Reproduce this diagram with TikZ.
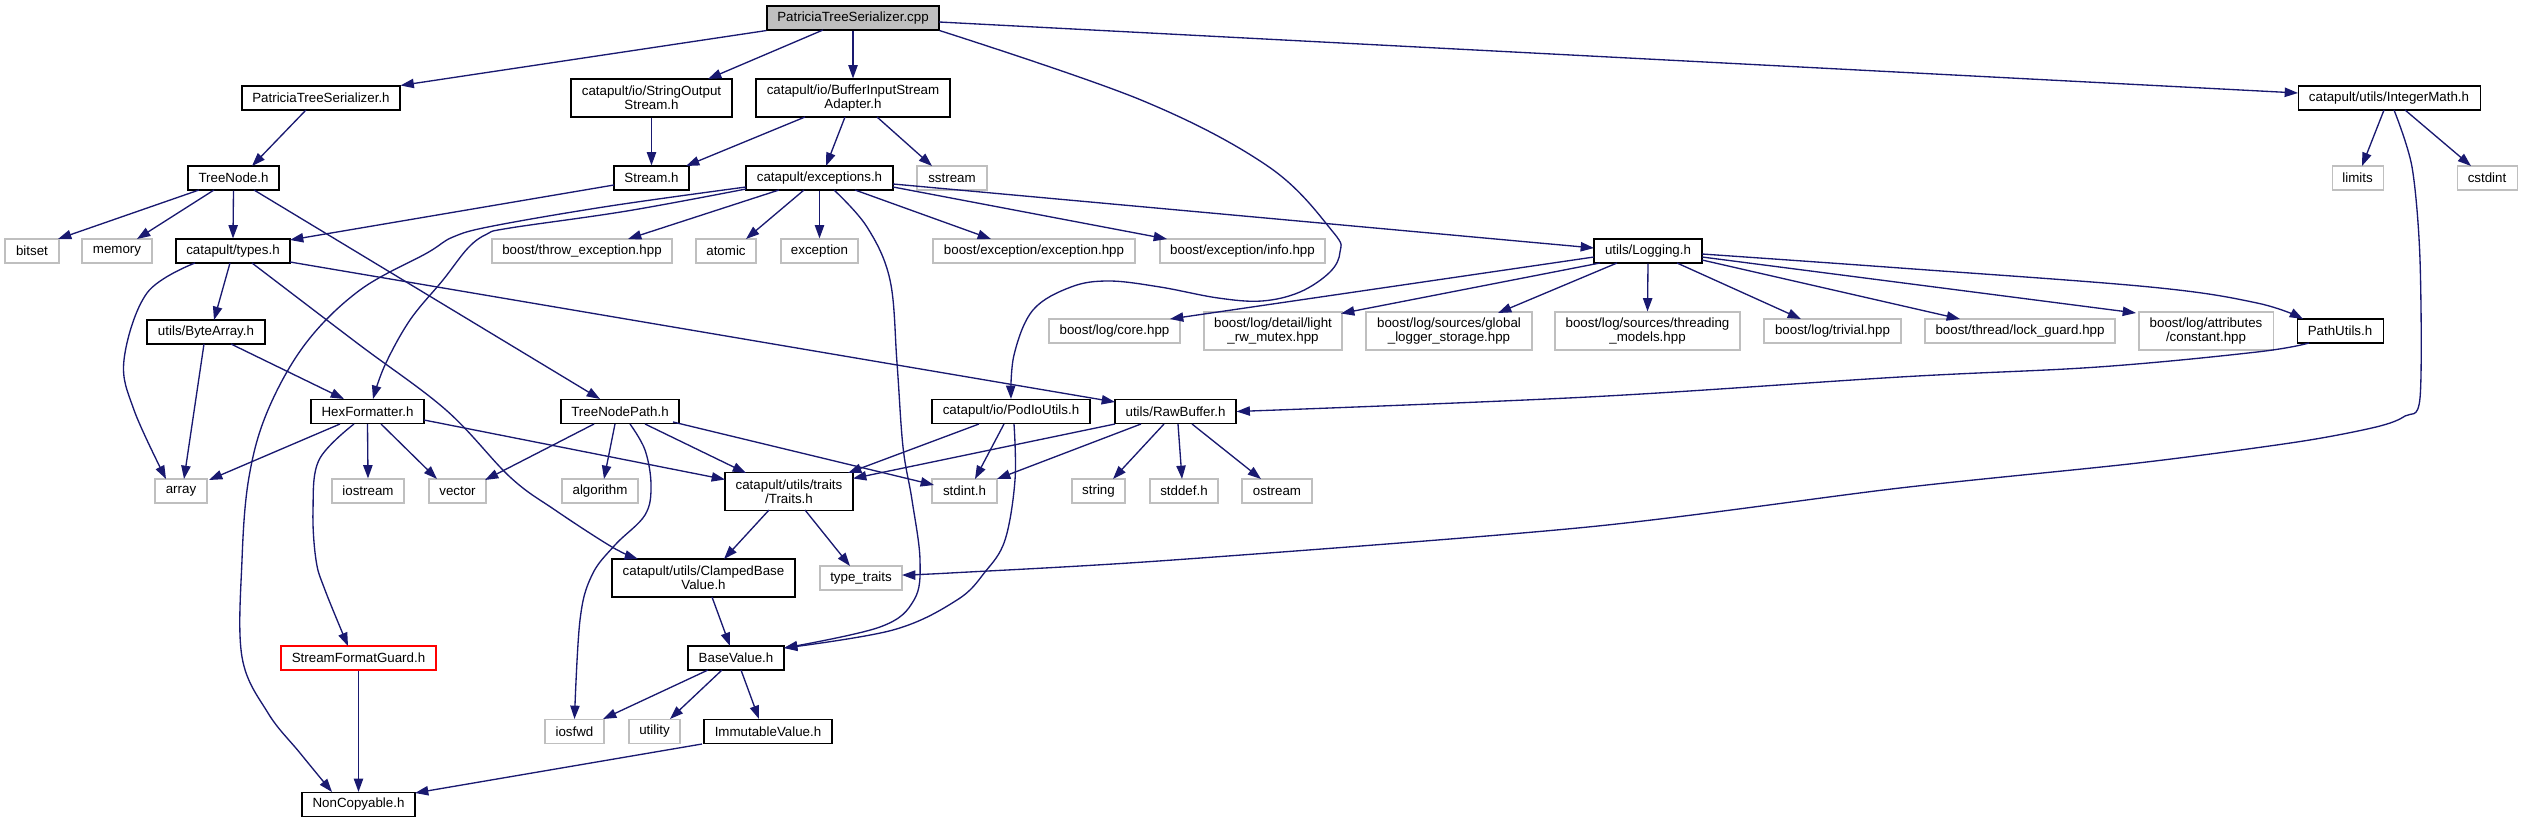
\documentclass[tikz,border=0pt]{standalone}
\usepackage{fontspec}
\setmainfont{Liberation Sans}
\usetikzlibrary{arrows.meta,calc}
\definecolor{edgec}{HTML}{191970}
\definecolor{extc}{HTML}{BFBFBF}
\begin{document}
\begin{tikzpicture}[x=0.75pt,y=-0.75pt,
  box/.style={draw=black, line width=0.8pt, fill=white, inner xsep=2pt, inner ysep=0pt,
    minimum height=18pt, align=center, font=\fontsize{10}{10.5}\selectfont},
  ext/.style={box, draw=extc},
  two/.style={minimum height=28.5pt},
  edge/.style={draw=edgec, line width=1pt, -{Triangle[length=10pt,width=7pt]}}]
\useasboundingbox (0,0) rectangle (2522,823);
% nodes
\node[box, fill=extc, minimum width=129pt] (cpp) at (853,18) {PatriciaTreeSerializer.cpp};
\node[box, minimum width=118.5pt] (pth) at (321,98) {PatriciaTreeSerializer.h};
\node[box, two, minimum width=120.75pt] (sos) at (651.5,98) {catapult/io/StringOutput\\Stream.h};
\node[box, two, minimum width=145.5pt] (bisa) at (853,98) {catapult/io/BufferInputStream\\Adapter.h};
\node[box, minimum width=68.25pt] (treenode) at (233.5,178) {TreeNode.h};
\node[box, minimum width=56.25pt] (stream) at (651.5,178) {Stream.h};
\node[box, minimum width=110.25pt] (exc) at (819.5,178) {catapult/exceptions.h};
\node[ext, minimum width=52.5pt] (sstream) at (952,178) {sstream};
\node[ext, minimum width=40.5pt] (bitset) at (32,251) {bitset};
\node[ext, minimum width=52.5pt] (memory) at (117,251) {memory};
\node[box, minimum width=85.5pt] (types) at (233,251) {catapult/types.h};
\node[ext, minimum width=135pt] (throw) at (582,251) {boost/throw\_exception.hpp};
\node[ext, minimum width=45pt] (atomic) at (726,251) {atomic};
\node[ext, minimum width=57.75pt] (exception) at (819.5,251) {exception};
\node[ext, minimum width=151.5pt] (bexc) at (1034,251) {boost/exception/exception.hpp};
\node[ext, minimum width=123.75pt] (binfo) at (1242.5,251) {boost/exception/info.hpp};
\node[box, minimum width=81pt] (logging) at (1648,251) {utils/Logging.h};
\node[box, minimum width=88.5pt] (bytearray) at (206,332) {utils/ByteArray.h};
\node[box, minimum width=84.75pt] (hex) at (367.5,411.5) {HexFormatter.h};
\node[box, minimum width=88.5pt] (tnp) at (620,411.5) {TreeNodePath.h};
\node[box, minimum width=118.5pt] (pod) at (1011,411.5) {catapult/io/PodIoUtils.h};
\node[box, minimum width=90.75pt] (raw) at (1175.5,411.5) {utils/RawBuffer.h};
\node[ext, minimum width=39pt] (array) at (181,491) {array};
\node[ext, minimum width=54pt] (iostream) at (368,491) {iostream};
\node[ext, minimum width=42.75pt] (vector) at (457.5,491) {vector};
\node[ext, minimum width=57pt] (algorithm) at (600,491) {algorithm};
\node[box, two, minimum width=96pt] (traits) at (789,491.5) {catapult/utils/traits\\/Traits.h};
\node[ext, minimum width=48.75pt] (stdint) at (964.5,491) {stdint.h};
\node[ext, minimum width=39.75pt] (string) at (1098.5,491) {string};
\node[ext, minimum width=51pt] (stddef) at (1184,491) {stddef.h};
\node[ext, minimum width=52.5pt] (ostream) at (1277,491) {ostream};
\node[ext, minimum width=98.25pt] (core) at (1114.5,331) {boost/log/core.hpp};
\node[ext, two, minimum width=103.5pt] (lrw) at (1273,331) {boost/log/detail/light\\\_rw\_mutex.hpp};
\node[ext, two, minimum width=124.5pt] (glob) at (1449,331) {boost/log/sources/global\\\_logger\_storage.hpp};
\node[ext, two, minimum width=138.75pt] (thr) at (1647.5,331) {boost/log/sources/threading\\\_models.hpp};
\node[ext, minimum width=102.75pt] (trivial) at (1832.5,331) {boost/log/trivial.hpp};
\node[ext, minimum width=142.5pt] (lock) at (2020,331) {boost/thread/lock\_guard.hpp};
\node[ext, two, minimum width=100.5pt] (constant) at (2206,331) {boost/log/attributes\\/constant.hpp};
\node[box, minimum width=64.5pt] (pathutils) at (2340,331) {PathUtils.h};
\node[box, minimum width=136.5pt] (intmath) at (2389,98) {catapult/utils/IntegerMath.h};
\node[ext, minimum width=38.25pt] (limits) at (2357.5,178) {limits};
\node[ext, minimum width=45pt] (cstdint) at (2487,178) {cstdint};
\node[box, two, minimum width=137.25pt] (clamped) at (703.5,578) {catapult/utils/ClampedBase\\Value.h};
\node[ext, minimum width=61.5pt] (typetraits) at (861,578) {type\_traits};
\node[box, draw=red, minimum width=116.25pt] (sfg) at (358.5,658) {StreamFormatGuard.h};
\node[box, minimum width=72pt] (basevalue) at (736,658) {BaseValue.h};
\node[ext, minimum width=44.25pt] (iosfwd) at (574.5,731.5) {iosfwd};
\node[ext, minimum width=38.25pt] (utility) at (654.5,731.5) {utility};
\node[box, minimum width=96pt] (immutable) at (768,731.5) {ImmutableValue.h};
\node[box, minimum width=84.75pt] (noncopy) at (358.5,804.5) {NonCopyable.h};
% edges
\draw[edge] (cpp.south west) -- (pth.north east);
\draw[edge] ([shift={(-30,12)}]cpp.center) -- ([shift={(56.5,-19)}]sos.center);
\draw[edge] (cpp.south) -- (bisa.north);
\draw[edge] ([shift={(86,4)}]cpp.center) -- ([shift={(-91,-5)}]intmath.center);
\draw[edge] plot[smooth,tension=0.6] coordinates {(cpp.south east) (1141,100) (1269,167) (1333,232) (1340,252) (1330,272) (1300,292) (1262,301) (1218,298) (1160,287) (1109,281) (1071,287) (1033,310) (1014,355) (pod.north)};
\draw[edge] ([shift={(-15,12)}]pth.center) -- ([shift={(18.5,-12)}]treenode.center);
\draw[edge] (sos.south) -- (stream.north);
\draw[edge] ([shift={(-48,19)}]bisa.center) -- ([shift={(34.5,-12)}]stream.center);
\draw[edge] ([shift={(-8,19)}]bisa.center) -- ([shift={(6.5,-12)}]exc.center);
\draw[edge] ([shift={(24,19)}]bisa.center) -- ([shift={(-20,-12)}]sstream.center);
\draw[edge] ([shift={(-34.5,12)}]treenode.center) -- ([shift={(26,-12)}]bitset.center);
\draw[edge] ([shift={(-19.5,12)}]treenode.center) -- ([shift={(20,-12)}]memory.center);
\draw[edge] (treenode.south) -- (types.north);
\draw[edge] ([shift={(20.5,12)}]treenode.center) -- ([shift={(-20,-12.5)}]tnp.center);
\draw[edge] ([shift={(-37.5,7)}]stream.center) -- ([shift={(57,-11)}]types.center);
\draw[edge] plot[smooth,tension=0.6] coordinates {([shift={(-73.5,11)}]exc.center) (627,211) (510,228) (487,234) (468,248) (443,280) (410,320) (385,365) ([shift={(5.5,-12.5)}]hex.center)};
\draw[edge] plot[smooth,tension=0.6] coordinates {([shift={(-73.5,9)}]exc.center) (610,206) (493,226) (453,237) (427,253) (360,290) (306,343) (268,410) (249,477) (242,560) (242,657) (268,713) (300,753) ([shift={(-26.5,-12.5)}]noncopy.center)};
\draw[edge] ([shift={(-40.5,12)}]exc.center) -- ([shift={(46,-12)}]throw.center);
\draw[edge] ([shift={(-15.5,12)}]exc.center) -- ([shift={(20,-12)}]atomic.center);
\draw[edge] (exc.south) -- (exception.north);
\draw[edge] plot[smooth,tension=0.6] coordinates {([shift={(14.5,12)}]exc.center) (867,227) (890,280) (897,363) (903,447) (912,500) (920,560) (914,600) (880,627) ([shift={(48,-10)}]basevalue.center)};
\draw[edge] ([shift={(35.5,12)}]exc.center) -- ([shift={(-43,-12)}]bexc.center);
\draw[edge] ([shift={(73.5,9)}]exc.center) -- ([shift={(-75.5,-12)}]binfo.center);
\draw[edge] ([shift={(73.5,6)}]exc.center) -- ([shift={(-54,-3)}]logging.center);
\draw[edge] plot[smooth,tension=0.6] coordinates {([shift={(-38,12)}]types.center) (147,293) (124,360) (134,410) ([shift={(-15,-12)}]array.center)};
\draw[edge] ([shift={(-3,12)}]types.center) -- ([shift={(8,-12)}]bytearray.center);
\draw[edge] plot[smooth,tension=0.6] coordinates {([shift={(19,12)}]types.center) (357,343) (446,410) (510,477) (555,510) (612,547) ([shift={(-65.5,-19)}]clamped.center)};
\draw[edge] ([shift={(57,11)}]types.center) -- ([shift={(-60.5,-9.5)}]raw.center);
\draw[edge] ([shift={(-2,12)}]bytearray.center) -- ([shift={(3,-12)}]array.center);
\draw[edge] ([shift={(25,12)}]bytearray.center) -- ([shift={(-23.5,-12.5)}]hex.center);
\draw[edge] ([shift={(-27.5,12.5)}]hex.center) -- ([shift={(28,-11)}]array.center);
\draw[edge] plot[smooth,tension=0.6] coordinates {([shift={(-13.5,12.5)}]hex.center) (319,460) (313,510) (316,560) (325,590) ([shift={(-10.5,-12)}]sfg.center)};
\draw[edge] (hex.south) -- (iostream.north);
\draw[edge] ([shift={(13.5,12.5)}]hex.center) -- ([shift={(-20.5,-12)}]vector.center);
\draw[edge] ([shift={(56.5,8.5)}]hex.center) -- ([shift={(-64,-12)}]traits.center);
\draw[edge] ([shift={(-26,12.5)}]tnp.center) -- ([shift={(27.5,-11)}]vector.center);
\draw[edge] ([shift={(-5,12.5)}]tnp.center) -- ([shift={(4,-12)}]algorithm.center);
\draw[edge] plot[smooth,tension=0.6] coordinates {([shift={(10,12.5)}]tnp.center) (645,450) (651,485) (645,515) (615,545) (592,575) (580,620) (iosfwd.north)};
\draw[edge] ([shift={(25,12.5)}]tnp.center) -- ([shift={(-43,-18.5)}]traits.center);
\draw[edge] ([shift={(53,10.5)}]tnp.center) -- ([shift={(-30.5,-6)}]stdint.center);
\draw[edge] ([shift={(-32,12.5)}]pod.center) -- ([shift={(59,-18.5)}]traits.center);
\draw[edge] ([shift={(-7,12.5)}]pod.center) -- ([shift={(10.5,-12)}]stdint.center);
\draw[edge] plot[smooth,tension=0.6] coordinates {([shift={(3,12.5)}]pod.center) (1015,480) (1005,540) (985,572) (957,600) (893,630) ([shift={(48,-10)}]basevalue.center)};
\draw[edge] ([shift={(-60.5,12.5)}]raw.center) -- ([shift={(64,-13)}]traits.center);
\draw[edge] ([shift={(-34.5,12.5)}]raw.center) -- ([shift={(32.5,-12)}]stdint.center);
\draw[edge] ([shift={(-11.5,12.5)}]raw.center) -- ([shift={(14.5,-12)}]string.center);
\draw[edge] ([shift={(2.5,12.5)}]raw.center) -- ([shift={(-2,-12)}]stddef.center);
\draw[edge] ([shift={(16.5,12.5)}]raw.center) -- ([shift={(-16,-12)}]ostream.center);
\draw[edge] ([shift={(-20,18.5)}]traits.center) -- ([shift={(20.5,-19)}]clamped.center);
\draw[edge] ([shift={(16,18.5)}]traits.center) -- ([shift={(-11,-12)}]typetraits.center);
\draw[edge] ([shift={(8.5,19)}]clamped.center) -- ([shift={(-6,-12)}]basevalue.center);
\draw[edge] ([shift={(-28,12)}]basevalue.center) -- ([shift={(28.5,-12.5)}]iosfwd.center);
\draw[edge] ([shift={(-14,12)}]basevalue.center) -- ([shift={(15.5,-12.5)}]utility.center);
\draw[edge] ([shift={(5,12)}]basevalue.center) -- ([shift={(-9,-12.5)}]immutable.center);
\draw[edge] ([shift={(-66,12.5)}]immutable.center) -- ([shift={(56.5,-11.5)}]noncopy.center);
\draw[edge] (sfg.south) -- (noncopy.north);
\draw[edge] ([shift={(-5,12)}]intmath.center) -- ([shift={(4.5,-12)}]limits.center);
\draw[edge] ([shift={(16,12)}]intmath.center) -- ([shift={(-16,-12)}]cstdint.center);
\draw[edge] plot[smooth,tension=0.5] coordinates {([shift={(5,12)}]intmath.center) (2412,167) (2420,260) (2420,398) (2405,416) (2376,427) (2297,442) (2138,463) (1900,488) (1588,527) (1173,560) (950,573) ([shift={(41,-3)}]typetraits.center)};
\draw[edge] ([shift={(-54,6)}]logging.center) -- ([shift={(55.5,-12)}]core.center);
\draw[edge] ([shift={(-48,12)}]logging.center) -- ([shift={(68,-17.5)}]lrw.center);
\draw[edge] ([shift={(-31,12)}]logging.center) -- ([shift={(49,-18)}]glob.center);
\draw[edge] (logging.south) -- (thr.north);
\draw[edge] ([shift={(29,12)}]logging.center) -- ([shift={(-31.5,-12)}]trivial.center);
\draw[edge] ([shift={(54,9)}]logging.center) -- ([shift={(-60,-12)}]lock.center);
\draw[edge] ([shift={(54,6)}]logging.center) -- ([shift={(-70,-18)}]constant.center);
\draw[edge] plot[smooth,tension=0.6] coordinates {([shift={(54,3)}]logging.center) (1900,268) (2150,287) (2257,303) ([shift={(-37,-12)}]pathutils.center)};
\draw[edge] plot[smooth,tension=0.6] coordinates {([shift={(-31,12)}]pathutils.center) (2257,352) (2098,367) (1900,377) (1588,397) (raw.east)};
\end{tikzpicture}
\end{document}
